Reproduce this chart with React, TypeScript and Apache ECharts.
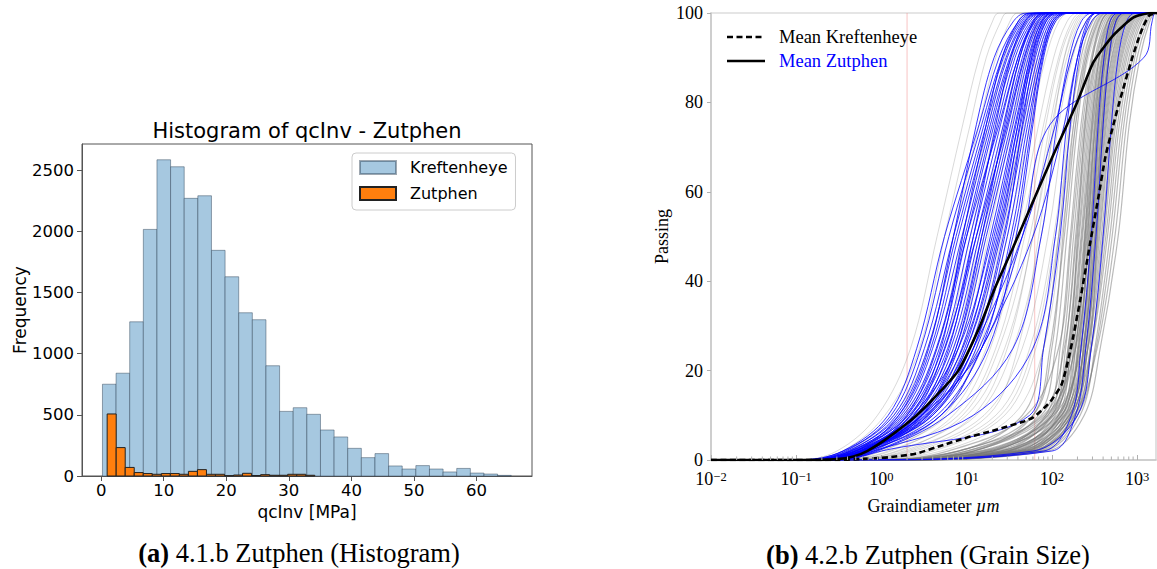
import React, { useEffect, useRef } from 'react';
import * as echarts from 'echarts';

// ---------- Histogram data (left) ----------
const KREFT_BIN_START = 0.21;
const KREFT_BIN_WIDTH = 2.178;
const KREFT_COUNTS = [750, 840, 1260, 2015, 2584, 2527, 2269, 2290, 1844, 1628, 1334, 1277, 901, 528, 558, 504, 376, 319, 226, 150, 183, 82, 57, 85, 57, 33, 62, 24, 16, 5];
const ZUT_BIN_START = 0.96;
const ZUT_BIN_WIDTH = 1.443;
const ZUT_COUNTS = [507, 232, 70, 28, 20, 14, 20, 20, 14, 38, 52, 14, 14, 3, 8, 22, 4, 11, 6, 6, 14, 14, 6];
const HIST_X_TICKS = [0, 10, 20, 30, 40, 50, 60];
const HIST_Y_TICKS = [0, 500, 1000, 1500, 2000, 2500];

// ---------- Grain size data (right) ----------
// each curve: grain diameter (um) at these passing levels
const PASSING_LEVELS = [0, 2, 10, 25, 50, 75, 90, 98, 100];
const CURVE_START_D = 0.01;
const CURVE_END_D = 2000;

const KREFT_SAND_CURVES = [
  [0.4, 8, 60, 100, 135, 180, 240, 320, 420],
  [0.6, 12, 70, 110, 150, 200, 260, 350, 450],
  [0.5, 20, 85, 125, 165, 220, 290, 380, 480],
  [0.8, 6, 50, 120, 170, 230, 300, 400, 520],
  [0.3, 15, 90, 135, 180, 240, 320, 420, 540],
  [0.7, 25, 100, 145, 190, 250, 330, 440, 560],
  [1.0, 10, 75, 140, 195, 260, 340, 450, 580],
  [0.5, 30, 110, 155, 205, 270, 355, 470, 600],
  [0.9, 18, 95, 155, 210, 280, 365, 480, 620],
  [0.6, 40, 120, 165, 220, 290, 380, 500, 640],
  [1.2, 8, 80, 160, 225, 300, 390, 510, 660],
  [0.4, 22, 105, 170, 230, 305, 400, 530, 680],
  [0.8, 35, 125, 180, 240, 315, 410, 540, 700],
  [1.5, 12, 90, 175, 245, 325, 420, 560, 720],
  [0.7, 45, 135, 190, 250, 330, 430, 570, 740],
  [1.0, 28, 120, 190, 255, 340, 440, 590, 760],
  [0.5, 16, 100, 185, 260, 350, 455, 600, 780],
  [1.3, 50, 145, 205, 270, 360, 470, 620, 800],
  [0.9, 32, 130, 205, 275, 370, 480, 640, 820],
  [0.6, 10, 85, 190, 280, 380, 500, 660, 850],
  [1.1, 55, 155, 220, 290, 390, 510, 680, 870],
  [0.8, 38, 140, 220, 295, 400, 525, 700, 900],
  [1.4, 20, 115, 215, 300, 410, 540, 720, 920],
  [0.7, 60, 165, 235, 310, 420, 555, 740, 950],
  [1.0, 42, 150, 235, 320, 430, 570, 760, 980],
  [0.5, 14, 105, 225, 325, 440, 590, 790, 1000],
  [1.2, 65, 175, 250, 335, 455, 610, 820, 1050],
  [0.9, 48, 160, 250, 345, 470, 630, 850, 1100],
  [0.6, 25, 130, 245, 355, 485, 650, 880, 1150],
  [1.1, 70, 185, 265, 365, 500, 670, 910, 1200],
  [0.8, 52, 170, 265, 380, 520, 700, 950, 1250],
  [1.3, 30, 145, 265, 395, 540, 730, 990, 1300],
  [0.7, 75, 200, 290, 410, 560, 760, 1030, 1350],
  [1.0, 58, 185, 290, 430, 590, 800, 1080, 1400],
  [0.6, 35, 160, 290, 450, 620, 840, 1130, 1450],
  [1.2, 80, 215, 320, 480, 660, 890, 1200, 1500],
  [0.9, 62, 200, 330, 510, 700, 940, 1260, 1550],
  [0.7, 40, 180, 340, 550, 750, 1000, 1330, 1600],
  [1.0, 90, 240, 370, 600, 810, 1080, 1400, 1650],
  [0.8, 20, 100, 160, 200, 245, 300, 380, 480],
  [1.1, 30, 130, 200, 245, 295, 360, 450, 560],
  [0.6, 45, 160, 235, 285, 340, 410, 510, 640],
  [0.9, 25, 140, 240, 300, 360, 430, 530, 660],
  [1.3, 60, 190, 280, 340, 400, 470, 570, 700],
  [0.5, 8, 45, 80, 120, 165, 220, 300, 400],
  [0.8, 12, 60, 95, 140, 190, 250, 340, 440],
  [1.0, 50, 170, 260, 320, 385, 460, 560, 700],
  [0.7, 18, 120, 210, 265, 320, 390, 480, 600],
];

const KREFT_FINE_CURVES = [
  [0.1, 0.3, 0.9, 2.2, 4.5, 9, 14, 20, 24],
  [0.12, 0.35, 1.1, 2.8, 5.5, 11, 17, 25, 30],
  [0.15, 0.4, 1.4, 3.5, 7, 14, 22, 32, 40],
  [0.1, 0.5, 1.8, 4.5, 9, 18, 28, 40, 50],
  [0.2, 0.6, 2.2, 5.5, 11, 22, 34, 50, 65],
  [0.15, 0.5, 2.5, 7, 14, 27, 42, 60, 80],
  [0.2, 0.7, 3.5, 9, 18, 34, 52, 75, 100],
  [0.25, 0.8, 4, 11, 24, 45, 68, 95, 130],
  [0.2, 0.9, 5, 14, 30, 56, 85, 120, 160],
  [0.3, 1.0, 6, 17, 38, 70, 105, 150, 200],
  [0.3, 1.2, 8, 22, 48, 85, 125, 180, 240],
  [0.35, 1.5, 10, 28, 60, 100, 150, 210, 280],
  [0.4, 1.8, 13, 35, 75, 120, 175, 250, 330],
  [0.3, 2.2, 16, 45, 90, 140, 200, 290, 380],
  [0.4, 3, 22, 55, 105, 160, 230, 330, 430],
  [0.5, 4, 28, 65, 120, 180, 260, 370, 480],
  [0.35, 2.5, 18, 40, 70, 105, 140, 190, 250],
  [0.25, 1.3, 7, 19, 42, 80, 120, 170, 220],
  [0.3, 2, 12, 30, 60, 110, 170, 250, 330],
  [0.4, 5, 35, 80, 130, 190, 270, 380, 500],
  [0.3, 3.5, 25, 60, 110, 170, 250, 360, 470],
  [0.2, 1.0, 5.5, 13, 26, 48, 75, 110, 150],
  [0.15, 0.6, 3, 8, 16, 30, 48, 70, 90],
  [0.3, 1.6, 9, 24, 55, 95, 140, 200, 260],
];

const ZUT_CURVES = [
  [0.10, 0.35, 1.2, 2.6, 5.5, 14, 24, 40, 56],
  [0.12, 0.38, 1.3, 2.9, 6.2, 15, 26, 42, 60],
  [0.10, 0.36, 1.4, 3.2, 7.0, 16, 27, 44, 62],
  [0.15, 0.42, 1.5, 3.5, 7.5, 17, 29, 46, 66],
  [0.11, 0.40, 1.6, 3.8, 8.0, 18, 30, 48, 70],
  [0.13, 0.45, 1.7, 4.0, 8.8, 19, 32, 50, 72],
  [0.12, 0.43, 1.8, 4.4, 9.5, 20, 33, 52, 75],
  [0.14, 0.47, 1.9, 4.8, 10, 21, 35, 55, 78],
  [0.16, 0.50, 2.0, 5.2, 11, 23, 37, 58, 82],
  [0.12, 0.44, 2.1, 5.6, 12, 25, 40, 60, 85],
  [0.15, 0.52, 2.2, 6.0, 13, 27, 42, 63, 90],
  [0.17, 0.55, 2.4, 6.5, 14, 29, 45, 66, 95],
  [0.13, 0.48, 2.5, 7.0, 15, 31, 48, 70, 100],
  [0.16, 0.56, 2.7, 7.5, 16, 33, 50, 73, 105],
  [0.18, 0.60, 2.9, 8.0, 17, 35, 53, 76, 110],
  [0.14, 0.50, 3.0, 8.8, 19, 37, 56, 80, 115],
  [0.17, 0.58, 3.2, 9.5, 21, 40, 60, 85, 120],
  [0.19, 0.62, 3.4, 10, 23, 43, 64, 90, 125],
  [0.15, 0.55, 3.6, 11, 25, 46, 68, 95, 130],
  [0.18, 0.60, 3.8, 12, 27, 49, 72, 100, 140],
  [0.20, 0.65, 4.0, 13, 30, 52, 76, 105, 150],
  [0.16, 0.58, 2.2, 5.0, 9, 17, 26, 40, 55],
  [0.14, 0.50, 1.6, 3.6, 7, 13, 21, 35, 50],
  [0.20, 0.70, 2.6, 6.2, 12, 22, 33, 48, 65],
  [0.18, 0.62, 2.0, 4.5, 10, 24, 40, 62, 88],
  [0.22, 0.75, 3.0, 7.5, 15, 28, 42, 60, 80],
  [0.17, 0.60, 2.4, 5.5, 13, 30, 47, 68, 92],
  [0.20, 0.68, 2.8, 9.0, 22, 40, 55, 75, 100],
  [0.25, 0.80, 3.5, 12, 28, 45, 62, 85, 115],
  [0.18, 0.55, 2.3, 8.0, 20, 38, 58, 82, 110],
  [0.22, 0.72, 4.5, 15, 33, 55, 75, 100, 140],
  [0.20, 0.66, 3.0, 10, 24, 42, 58, 78, 100],
  [0.25, 0.85, 5, 18, 38, 60, 80, 110, 160],
  [0.19, 0.63, 3.3, 14, 35, 58, 78, 105, 150],
  [0.3, 1.0, 55, 80, 125, 165, 210, 270, 340],
  [0.25, 0.8, 12, 60, 110, 150, 200, 260, 330],
  [0.3, 0.9, 6, 35, 75, 115, 160, 220, 300],
  [0.2, 0.6, 4, 12, 45, 110, 170, 250, 340],
  [0.22, 0.7, 5, 15, 60, 140, 200, 290, 400],
  [0.4, 80, 170, 220, 290, 350, 410, 480, 600],
  [0.5, 100, 190, 250, 330, 400, 470, 560, 700],
  [0.35, 60, 200, 290, 400, 500, 600, 750, 950],
  [0.2, 0.6, 3, 15, 45, 95, 1200, 1500, 1650],
];

const MEAN_KREFT_D = [0.01, 0.3, 0.55, 1.2, 2.5, 5, 10, 20, 30, 45, 60, 80, 100, 131, 166, 216, 282, 350, 427, 520, 620, 880, 1100, 1400, 2000];
const MEAN_KREFT_P = [0, 0, 0.2, 0.6, 1.4, 3.2, 5, 6.5, 7.5, 8.5, 9.5, 11.5, 13.5, 17, 24.7, 35.9, 48.6, 58.5, 68, 74.5, 80, 90, 95.5, 99.5, 100];
const MEAN_ZUT_D = [0.01, 0.12, 0.3, 0.47, 0.68, 1.2, 2.6, 5, 8, 14, 21, 35, 64, 100, 198, 308, 526, 910, 1450, 2000];
const MEAN_ZUT_P = [0, 0, 0.2, 0.8, 2, 5, 10, 15.5, 20, 29.5, 38, 47.5, 59, 67.5, 80, 89, 95, 99, 100, 100];

const CLASS_BOUNDS = [2, 63];
const GRAIN_Y_MIN = 0;
const GRAIN_Y_MAX = 100;
const GRAIN_X_MIN = 0.01;
const GRAIN_X_MAX = 1670;

const SERIF = 'Liberation Serif';
const SANS = 'DejaVu Sans';

function histBins(start: number, width: number, counts: number[]) {
  return counts.map((c, i) => [start + i * width, start + (i + 1) * width, c]);
}

function curveData(d: number[]) {
  return [[CURVE_START_D, 0], ...d.map((v, i) => [v, PASSING_LEVELS[i]]), [CURVE_END_D, 100]];
}

function minorTickValues() {
  const out: number[][] = [];
  for (let e = -2; e <= 3; e++) {
    for (let m = 2; m <= 9; m++) {
      const v = m * Math.pow(10, e);
      if (v < GRAIN_X_MAX) out.push([v, 0]);
    }
  }
  return out;
}

function buildOption() {
  const histRender = (fill: string, stroke: string) => (params: any, api: any) => {
    const p0 = api.coord([api.value(0), api.value(2)]);
    const p1 = api.coord([api.value(1), 0]);
    return {
      type: 'rect',
      shape: { x: p0[0], y: p0[1], width: p1[0] - p0[0], height: p1[1] - p0[1] },
      style: { fill, stroke, lineWidth: 1 },
    };
  };

  const lineBase = (name: string, data: any[], color: string, width: number, extra: any = {}) => ({
    name,
    type: 'line',
    xAxisIndex: 1,
    yAxisIndex: 1,
    data,
    symbol: 'none',
    showSymbol: false,
    silent: true,
    smooth: extra.smooth ?? 0.35,
    lineStyle: { color, width, ...(extra.lineStyle || {}) },
    itemStyle: { color },
    emphasis: { disabled: true },
    z: extra.z ?? 2,
  });

  const series: any[] = [
    {
      name: 'Kreftenheye',
      type: 'custom',
      xAxisIndex: 0,
      yAxisIndex: 0,
      data: histBins(KREFT_BIN_START, KREFT_BIN_WIDTH, KREFT_COUNTS),
      encode: { x: [0, 1], y: 2 },
      renderItem: histRender('#a6c8e0', 'rgba(40,60,80,0.45)'),
      itemStyle: { color: '#a6c8e0', borderColor: 'rgba(40,60,80,0.45)', borderWidth: 1 },
      silent: true,
    },
    {
      name: 'Zutphen',
      type: 'custom',
      xAxisIndex: 0,
      yAxisIndex: 0,
      data: histBins(ZUT_BIN_START, ZUT_BIN_WIDTH, ZUT_COUNTS),
      encode: { x: [0, 1], y: 2 },
      renderItem: histRender('#ff7f0e', '#222'),
      itemStyle: { color: '#ff7f0e', borderColor: '#222', borderWidth: 1 },
      silent: true,
    },
  ];

  CLASS_BOUNDS.forEach((b, i) => {
    series.push(lineBase('bound' + i, [[b, GRAIN_Y_MIN], [b, GRAIN_Y_MAX]], 'rgba(240,120,120,0.55)', 0.8, { smooth: false }));
  });

  KREFT_FINE_CURVES.forEach((c, i) => {
    series.push(lineBase('kf' + i, curveData(c), 'rgba(128,128,128,0.3)', 1));
  });
  KREFT_SAND_CURVES.forEach((c, i) => {
    series.push(lineBase('ks' + i, curveData(c), 'rgba(118,118,118,0.5)', 1.2));
  });
  ZUT_CURVES.forEach((c, i) => {
    series.push(lineBase('z' + i, curveData(c), 'rgba(0,0,255,0.78)', 1));
  });

  series.push(
    lineBase('Mean Kreftenheye', MEAN_KREFT_D.map((d, i) => [d, MEAN_KREFT_P[i]]), '#000', 2.6, {
      lineStyle: { type: [6, 3.5] },
      z: 5,
      smooth: 0.2,
    })
  );
  series.push(lineBase('Mean Zutphen', MEAN_ZUT_D.map((d, i) => [d, MEAN_ZUT_P[i]]), '#000', 2.6, { z: 5, smooth: 0.2 }));

  series.push({
    name: 'minorTicks',
    type: 'custom',
    xAxisIndex: 1,
    yAxisIndex: 1,
    data: minorTickValues(),
    encode: { x: 0, y: 1 },
    silent: true,
    z: 6,
    renderItem: (params: any, api: any) => {
      const p = api.coord([api.value(0), 0]);
      return {
        type: 'line',
        shape: { x1: p[0], y1: p[1], x2: p[0], y2: p[1] - 3.5 },
        style: { stroke: '#b0b0b0', lineWidth: 1 },
      };
    },
  });

  const supLabel = (value: number) => {
    const e = Math.round(Math.log10(value));
    const s = e < 0 ? '\u2212' + -e : String(e);
    return '{b|10}{s|' + s + '}';
  };

  return {
    animation: false,
    backgroundColor: '#fff',
    grid: [
      { left: 82, top: 144, width: 450, height: 332, show: true, borderColor: '#555', borderWidth: 1 },
      { left: 711, top: 13, width: 445, height: 447, show: true, borderColor: '#cccccc', borderWidth: 1.2 },
    ],
    xAxis: [
      {
        gridIndex: 0,
        type: 'value',
        min: -3.06,
        max: 68.87,
        axisLine: { show: true, onZero: false, lineStyle: { color: '#555', width: 1 } },
        axisTick: { show: true, customValues: HIST_X_TICKS, length: 5, lineStyle: { color: '#555' } },
        axisLabel: { customValues: HIST_X_TICKS, formatter: (v: number) => String(v), fontFamily: SANS, fontSize: 16.5, color: '#000', margin: 6 },
        splitLine: { show: false },
        name: 'qcInv [MPa]',
        nameLocation: 'middle',
        nameGap: 22,
        nameTextStyle: { fontFamily: SANS, fontSize: 17, color: '#000', verticalAlign: 'top' },
      },
      {
        gridIndex: 1,
        type: 'log',
        logBase: 10,
        min: GRAIN_X_MIN,
        max: GRAIN_X_MAX,
        axisLine: { show: true, onZero: false, lineStyle: { color: '#c8c8c8', width: 1.5 } },
        axisTick: { show: true, inside: true, length: 5, lineStyle: { color: '#b0b0b0' } },
        axisLabel: {
          formatter: supLabel,
          showMaxLabel: false,
          margin: 10,
          rich: {
            b: { fontFamily: SERIF, fontSize: 18, color: '#000', verticalAlign: 'bottom', lineHeight: 18, padding: [2, 0, 0, 0] },
            s: { fontFamily: SERIF, fontSize: 12.5, color: '#000', verticalAlign: 'top', lineHeight: 12 },
          },
        },
        splitLine: { show: false },
        name: 'Graindiameter {i|\u00b5m}',
        nameLocation: 'middle',
        nameGap: 37,
        nameTextStyle: {
          fontFamily: SERIF,
          fontSize: 18,
          color: '#000',
          verticalAlign: 'top',
          rich: { i: { fontFamily: SERIF, fontSize: 18, fontStyle: 'italic', color: '#000' } },
        },
      },
    ],
    yAxis: [
      {
        gridIndex: 0,
        type: 'value',
        min: 0,
        max: 2713,
        axisLine: { show: true, onZero: false, lineStyle: { color: '#555', width: 1 } },
        axisTick: { show: true, customValues: HIST_Y_TICKS, length: 5, lineStyle: { color: '#555' } },
        axisLabel: { customValues: HIST_Y_TICKS, formatter: (v: number) => String(v), fontFamily: SANS, fontSize: 16.5, color: '#000', margin: 8 },
        splitLine: { show: false },
        name: 'Frequency',
        nameLocation: 'middle',
        nameGap: 49,
        nameTextStyle: { fontFamily: SANS, fontSize: 17, color: '#000' },
      },
      {
        gridIndex: 1,
        type: 'value',
        min: GRAIN_Y_MIN,
        max: GRAIN_Y_MAX,
        interval: 20,
        axisLine: { show: true, onZero: false, lineStyle: { color: '#c8c8c8', width: 1.5 } },
        axisTick: { show: true, length: 4, lineStyle: { color: '#b0b0b0' } },
        axisLabel: { fontFamily: SERIF, fontSize: 18, lineHeight: 13, color: '#000', margin: 8 },
        splitLine: { show: false },
        name: 'Passing',
        nameLocation: 'middle',
        nameGap: 40,
        nameTextStyle: { fontFamily: SERIF, fontSize: 18, color: '#000' },
      },
    ],
    legend: [
      {
        data: ['Kreftenheye', 'Zutphen'],
        left: 352,
        top: 153,
        orient: 'vertical',
        icon: 'rect',
        itemWidth: 36,
        itemHeight: 13,
        itemGap: 7,
        padding: [5, 8, 7, 7],
        borderColor: '#cccccc',
        borderWidth: 1,
        borderRadius: 4,
        backgroundColor: '#fff',
        selectedMode: false,
        textStyle: { fontFamily: SANS, fontSize: 16, color: '#000', lineHeight: 19, padding: [0, 0, 0, 9] },
      },
    ],
    graphic: [
      {
        type: 'text',
        x: 307,
        y: 131,
        style: { text: 'Histogram of qcInv - Zutphen', fontFamily: SANS, fontSize: 21, fill: '#000', align: 'center', verticalAlign: 'middle' },
      },
      {
        type: 'line',
        shape: { x1: 727, y1: 37, x2: 765, y2: 37 },
        style: { stroke: '#000', lineWidth: 2.6, lineDash: [6, 3.5] },
      },
      {
        type: 'text',
        x: 779,
        y: 37,
        style: { text: 'Mean Kreftenheye', fontFamily: SERIF, fontSize: 18.5, fill: '#000', align: 'left', verticalAlign: 'middle' },
      },
      {
        type: 'line',
        shape: { x1: 727, y1: 61, x2: 765, y2: 61 },
        style: { stroke: '#000', lineWidth: 2.6 },
      },
      {
        type: 'text',
        x: 779,
        y: 61,
        style: { text: 'Mean Zutphen', fontFamily: SERIF, fontSize: 18.5, fill: '#0000ff', align: 'left', verticalAlign: 'middle' },
      },
      {
        type: 'text',
        x: 299,
        y: 553,
        style: {
          text: '{b|(a)} 4.1.b Zutphen (Histogram)',
          fontFamily: SERIF,
          fontSize: 26.5,
          fill: '#000',
          align: 'center',
          verticalAlign: 'middle',
          rich: { b: { fontFamily: SERIF, fontSize: 26.5, fontWeight: 'bold', fill: '#000' } },
        },
      },
      {
        type: 'text',
        x: 928,
        y: 555,
        style: {
          text: '{b|(b)} 4.2.b Zutphen (Grain Size)',
          fontFamily: SERIF,
          fontSize: 26.5,
          fill: '#000',
          align: 'center',
          verticalAlign: 'middle',
          rich: { b: { fontFamily: SERIF, fontSize: 26.5, fontWeight: 'bold', fill: '#000' } },
        },
      },
    ],
    series,
  };
}

export default function App() {
  const ref = useRef<HTMLDivElement>(null);
  useEffect(() => {
    const chart = echarts.init(ref.current!, undefined, { renderer: 'svg' });
    chart.setOption(buildOption() as any);
    return () => chart.dispose();
  }, []);
  return (
    <div
      ref={ref}
      style={{ position: 'fixed', left: 0, top: 0, width: 1157, height: 569, background: '#fff' }}
    />
  );
}
